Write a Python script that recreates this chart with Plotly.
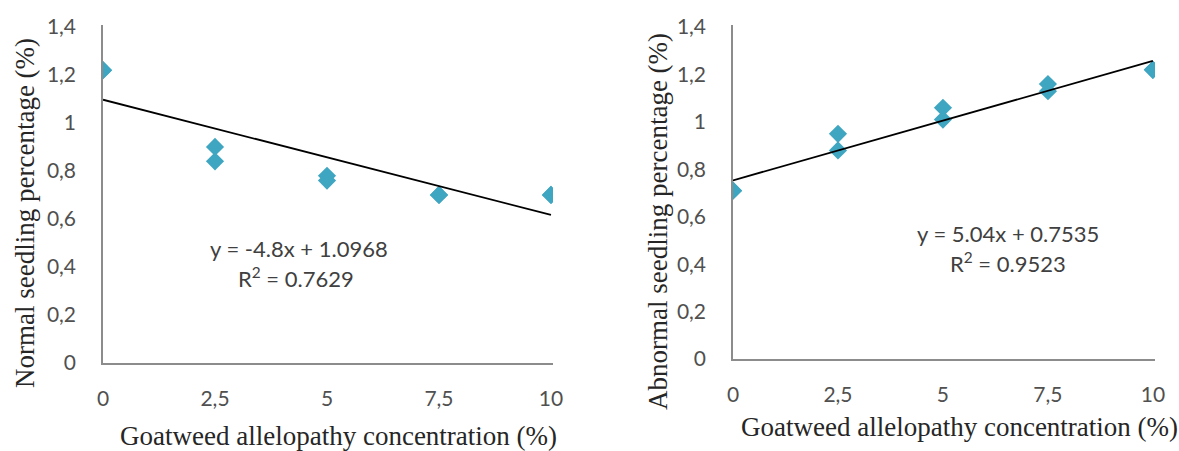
import plotly.graph_objects as go

# ---- data ----
conc = [0, 0, 2.5, 2.5, 5, 5, 7.5, 7.5, 10, 10]
normal_pct = [1.22, 1.22, 0.90, 0.84, 0.78, 0.76, 0.70, 0.70, 0.70, 0.70]
abnormal_pct = [0.71, 0.71, 0.95, 0.88, 1.06, 1.01, 1.16, 1.13, 1.22, 1.22]

tick_vals_x = [0, 2.5, 5, 7.5, 10]
tick_text_x = ["0", "2,5", "5", "7,5", "10"]
tick_vals_y = [0, 0.2, 0.4, 0.6, 0.8, 1.0, 1.2, 1.4]
tick_text_y = ["0", "0,2", "0,4", "0,6", "0,8", "1", "1,2", "1,4"]

normal_fit = {"slope": -4.8, "intercept": 1.0968, "r2": "0.7629"}
abnormal_fit = {"slope": 5.04, "intercept": 0.7535, "r2": "0.9523"}
fit_x = [0, 10]

x_title = "Goatweed allelopathy concentration (%)"
y_title_left = "Normal seedling percentage (%)"
y_title_right = "Abnormal seedling percentage (%)"

W, H = 1179, 451
MARK = "#3FA6C2"
TICKC = "#505050"
AXC = "#8C8C8C"
SERIF = "Liberation Serif, Times New Roman, serif"
SANS = "Lato, Calibri, sans-serif"


def px(x):
    return x / W


def py(y):
    return 1 - y / H


def line_y(fit, xs):
    return [fit["slope"] * (v / 100) + fit["intercept"] for v in xs]


fig = go.Figure()

fig.add_trace(go.Scatter(x=conc, y=normal_pct, mode="markers", xaxis="x", yaxis="y",
                         marker=dict(symbol="diamond", size=14, color=MARK), showlegend=False))
fig.add_trace(go.Scatter(x=fit_x, y=line_y(normal_fit, fit_x), mode="lines", xaxis="x", yaxis="y",
                         line=dict(color="#000000", width=1.8), showlegend=False))
fig.add_trace(go.Scatter(x=conc, y=abnormal_pct, mode="markers", xaxis="x2", yaxis="y2",
                         marker=dict(symbol="diamond", size=14, color=MARK), showlegend=False))
fig.add_trace(go.Scatter(x=fit_x, y=line_y(abnormal_fit, fit_x), mode="lines", xaxis="x2", yaxis="y2",
                         line=dict(color="#000000", width=1.8), showlegend=False))

TK = 21
xcommon = dict(tickvals=tick_vals_x, ticktext=tick_text_x, showgrid=False, zeroline=False,
               showline=True, linecolor=AXC, linewidth=1.5, ticks="", ticklabelstandoff=16,
               automargin=False, tickfont=dict(family=SANS, size=TK, color=TICKC))
ycommon = dict(tickvals=tick_vals_y, ticktext=tick_text_y, showgrid=False, zeroline=False,
               showline=True, linecolor=AXC, linewidth=1.5, ticks="", ticklabelstandoff=21,
               automargin=False, tickfont=dict(family=SANS, size=TK, color=TICKC))

fig.update_layout(
    width=W, height=H,
    margin=dict(l=0, r=0, t=0, b=0, autoexpand=False),
    paper_bgcolor="white", plot_bgcolor="white",
    xaxis=dict(domain=[px(103), px(553)], range=[0, 10.045], anchor="y", **xcommon),
    yaxis=dict(domain=[py(363), py(25)], range=[0, 1.408], anchor="x", **ycommon),
    xaxis2=dict(domain=[px(733), px(1155)], range=[0, 10.05], anchor="y2", **xcommon),
    yaxis2=dict(domain=[py(359), py(25)], range=[0, 1.409], anchor="x2", **ycommon),
)

ann = []
def txt(x, y, s, size, family, color, angle=0):
    ann.append(dict(x=px(x), y=py(y), xref="paper", yref="paper", text=s, showarrow=False,
                    xanchor="center", yanchor="middle", textangle=angle,
                    font=dict(family=family, size=size, color=color)))

EQ = 22
txt(299, 248, "y = %.1fx + %.4f" % (normal_fit["slope"], normal_fit["intercept"]), EQ, SANS, "#404040")
txt(296, 277, "R<sup>2</sup> = " + normal_fit["r2"], EQ, SANS, "#404040")
txt(1008, 233, "y = %.2fx + %.4f" % (abnormal_fit["slope"], abnormal_fit["intercept"]), EQ, SANS, "#404040")
txt(1008, 262, "R<sup>2</sup> = " + abnormal_fit["r2"], EQ, SANS, "#404040")

TT = 27
txt(338, 436, x_title, TT, SERIF, "#262626")
txt(959, 427, x_title, TT, SERIF, "#262626")
txt(25, 213, y_title_left, TT, SERIF, "#262626", -90)
txt(658, 222, y_title_right, TT, SERIF, "#262626", -90)

fig.update_layout(annotations=ann)
fig.write_html("out.html", config={"displayModeBar": False},
               post_script="document.body.style.margin='0';document.body.style.overflow='hidden';")
